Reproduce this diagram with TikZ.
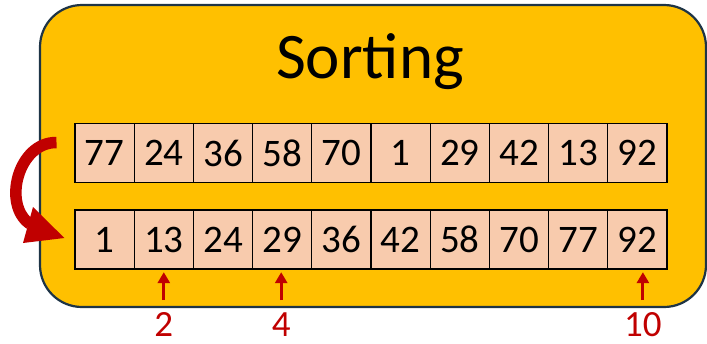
\documentclass[tikz,border=0pt]{standalone}
\usepackage{fontspec}
\setmainfont{Carlito}
\usetikzlibrary{arrows.meta,calc}
\definecolor{panelfill}{HTML}{FFC000}
\definecolor{panelline}{HTML}{1E3446}
\definecolor{cellfill}{HTML}{F8CBAD}
\definecolor{darkred}{HTML}{C00000}
\tikzset{
  panel/.style={draw=panelline, line width=2.2pt, fill=panelfill, rounded corners=42pt},
  cell/.style={draw=black, line width=1.3pt, fill=cellfill, minimum width=59.2pt,
    minimum height=59pt, inner sep=0pt, font=\fontsize{39}{40}\selectfont},
  pointer/.style={draw=darkred, line width=3pt,
    -{Triangle[width=12pt,length=11pt]}},
  idxlabel/.style={text=darkred, anchor=base, inner sep=0pt, font=\fontsize{37}{40}\selectfont},
  bigarrow/.style={draw=darkred, line width=11.5pt},
}
\begin{document}
\begin{tikzpicture}[x=1pt,y=-1pt]
\useasboundingbox (0,0) rectangle (707,343);
% panel
\path[panel] (40,5) rectangle (706,307);
\node[anchor=base, inner sep=0pt, font=\fontsize{65}{70}\selectfont] (title) at (370,78) {Sorting};
% unsorted row
\foreach \v [count=\i from 0] in {77,24,36,58,70,1,29,42,13,92}
  \node[cell] (u\i) at ({75+59.2*(\i+0.5)},153) {\v};
% sorted row
\foreach \v [count=\i from 0] in {1,13,24,29,36,42,58,70,77,92}
  \node[cell] (s\i) at ({75+59.2*(\i+0.5)},239.5) {\v};
% curved arrow from the unsorted row to the sorted row
\coordinate (cstart) at (56.5,142.5);
\coordinate (cend) at (30,224);
\coordinate (ctip) at ($(s0.west)+(-10,-1.5)$);
\path[bigarrow] (cstart) .. controls (18,142) and (2,205) .. (cend);
\fill[darkred] (33,207) -- (ctip) -- (23,243) -- cycle;
% index pointers (the last one sits a little right of its cell centre)
\foreach \i/\lab/\dx in {1/2/0,3/4/-1,9/10/5.5}{
  \coordinate (p\i) at ([xshift=\dx pt]s\i.south |- 0,300);
  \coordinate (q\i) at ([yshift=-2.5pt]s\i.south);
  \draw[pointer] (p\i) -- (p\i |- q\i);
  \node[idxlabel] (l\i) at (p\i |- 0,336.5) {\lab};
}
\end{tikzpicture}
\end{document}
